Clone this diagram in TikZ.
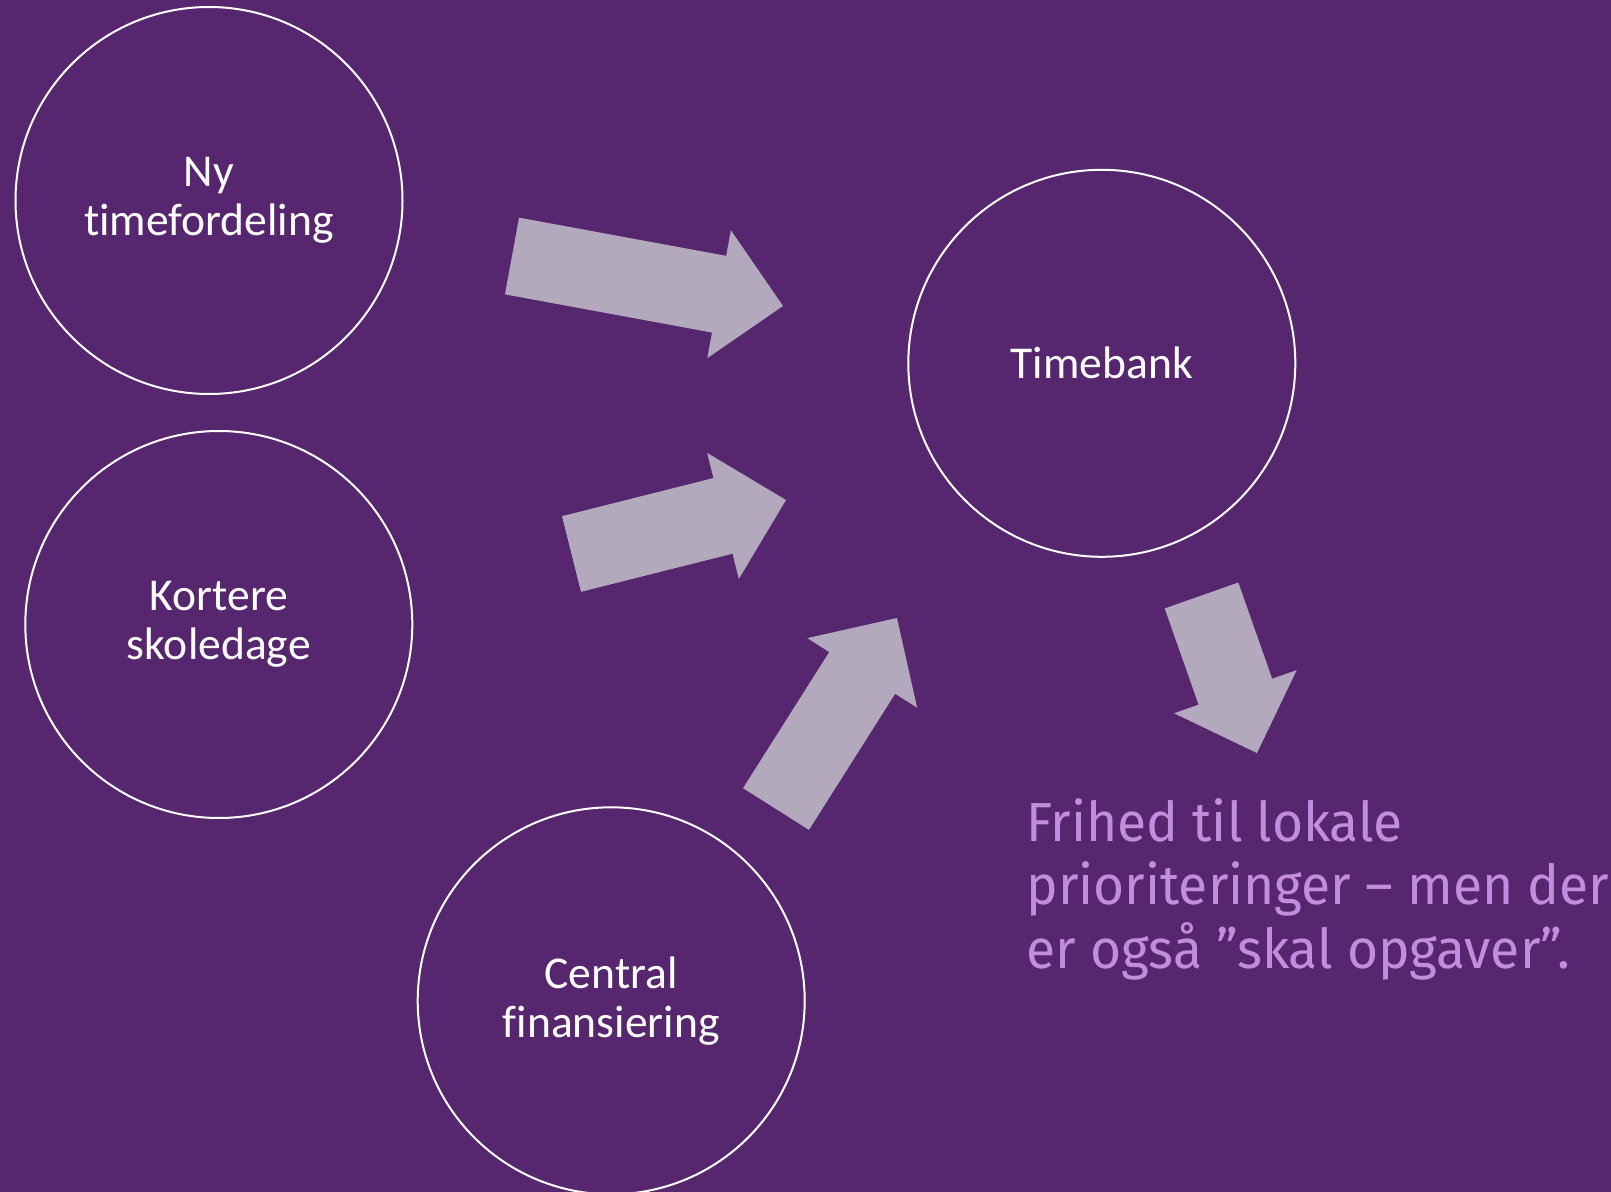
\documentclass[tikz,border=0pt]{standalone}
\usepackage{fontspec}
\setmainfont{Carlito}[Ligatures=NoCommon]
\newfontfamily\notefont[FakeStretch=0.97]{Fira Sans}
\definecolor{bgpurple}{RGB}{86,38,110}
\definecolor{arrowgrey}{RGB}{178,170,188}
\definecolor{notepurple}{RGB}{194,142,220}

\begin{document}
\begin{tikzpicture}[x=0.5pt,y=-0.5pt,every node/.style={align=center},
	circ/.style={circle,draw=white,line width=1pt,minimum size=193.5pt,inner sep=0pt,text=white,font=\fontsize{22.8}{24.3}\selectfont},
	blockarrow/.style={fill=arrowgrey}]
		\useasboundingbox (0,0) rectangle (1611,1192);
		\fill[bgpurple] (0,0) rectangle (1611,1192); % slide background
		\node[circ] (timefordeling) at (209,200.5) {Ny\\timefordeling};
		\node[circ] (skoledage) at (218.8,624.5) {Kortere\\skoledage};
		\node[circ] (finansiering) at (611.2,1000.8) {Central\\finansiering};
		\node[circ] (timebank) at (1101.8,363.3) {Timebank};
		% block arrows: tail x/tail y/angle/length
		\foreach \tx/\ty/\ang/\len in {512/256/-10.45/275.6, 571.5/554/14.13/221.2, 776/809/57.65/226.1, 1201.5/595.5/-70.6/167}
			\fill[blockarrow,shift={(\tx,\ty)},rotate=\ang] (0,39) -- (\len-65,39) -- (\len-65,65) -- (\len,0) -- (\len-65,-65) -- (\len-65,-39) -- (0,-39) -- cycle;
		\node[anchor=base west,align=left,inner sep=0pt,text=notepurple,font=\notefont\fontsize{27.5}{31.75}\selectfont] (frihed) at (1026,968) {Frihed til lokale\\prioriteringer – men der\\er også ”skal opgaver”.}; % note under the arrow
	\end{tikzpicture}
\end{document}
